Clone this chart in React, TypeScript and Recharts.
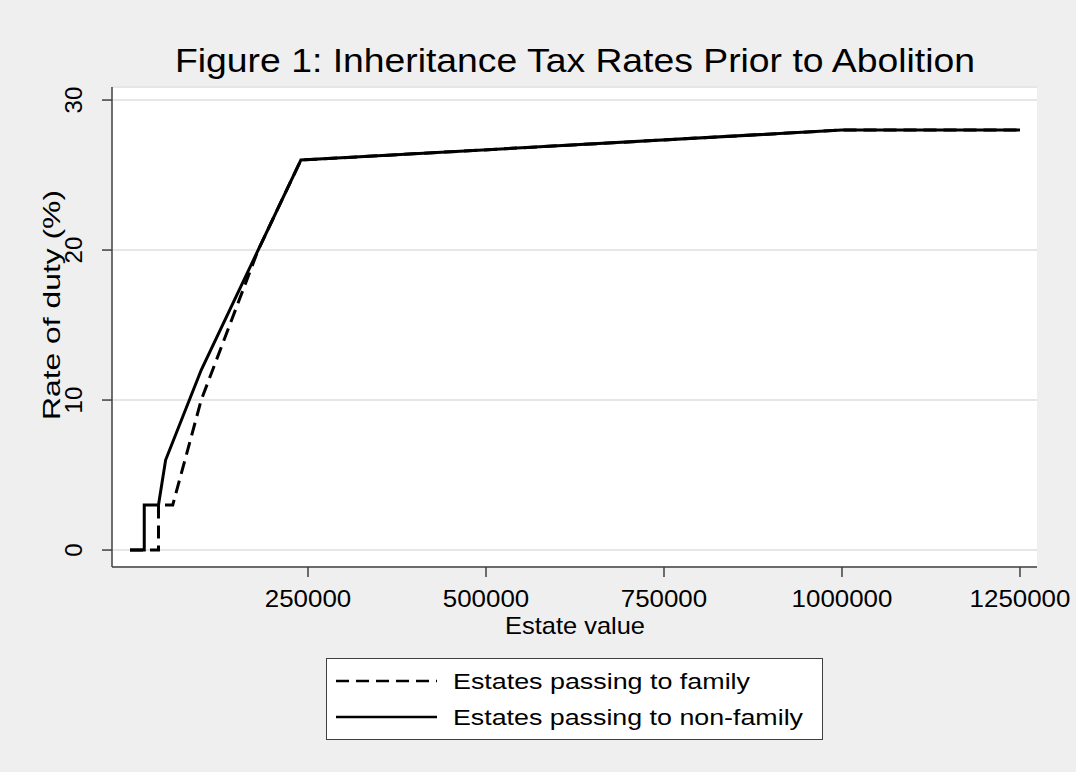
import React from 'react';
import { LineChart, Line, XAxis, YAxis, CartesianGrid, Label } from 'recharts';

const familyX = [0, 40000, 40000, 60000, 100000, 180000, 240000, 1000000, 1250000];
const familyY = [0, 0, 3, 3, 10, 20, 26, 28, 28];
const nonFamilyX = [0, 20000, 20000, 40000, 50000, 100000, 240000, 1000000, 1250000];
const nonFamilyY = [0, 0, 3, 3, 6, 12, 26, 28, 28];
const xTicks = [250000, 500000, 750000, 1000000, 1250000];
const yTicks = [0, 10, 20, 30];
const seriesNames = ['Estates passing to family', 'Estates passing to non-family'];

const familyData = familyX.map((x, i) => ({ x, y: familyY[i] }));
const nonFamilyData = nonFamilyX.map((x, i) => ({ x, y: nonFamilyY[i] }));

const FONT = 'Liberation Sans, Arial, sans-serif';

const YTick = (props: any) => {
  const { y, payload } = props;
  const bx = 82;
  return (
    <text x={bx} y={y} transform={`rotate(-90, ${bx}, ${y})`} textAnchor="middle" fontSize={24} fill="#000" fontFamily={FONT}>
      {payload.value}
    </text>
  );
};

const XTick = (props: any) => {
  const { x, payload } = props;
  const s = String(payload.value);
  return (
    <text x={x} y={607} textAnchor="middle" fontSize={24} fill="#000" fontFamily={FONT} textLength={s.length * 14.4} lengthAdjust="spacingAndGlyphs">
      {s}
    </text>
  );
};

const LegendBox = () => (
  <div style={{ position: 'absolute', left: 326, top: 658, width: 497, height: 82, background: '#fff', border: '1.5px solid #404040', boxSizing: 'border-box' }}>
    <svg width={497} height={82} style={{ position: 'absolute', left: -1.5, top: -1.5 }}>
      <line x1={10} x2={111} y1={23} y2={23} stroke="#000" strokeWidth={2.5} strokeDasharray="13 7" />
      <line x1={10} x2={111} y1={59} y2={59} stroke="#000" strokeWidth={2.5} />
      <text x={127} y={31} fontSize={22} fontFamily={FONT} fill="#000" textLength={297} lengthAdjust="spacingAndGlyphs">{seriesNames[0]}</text>
      <text x={127} y={67} fontSize={22} fontFamily={FONT} fill="#000" textLength={350} lengthAdjust="spacingAndGlyphs">{seriesNames[1]}</text>
    </svg>
  </div>
);

export default function App() {
  return (
    <div style={{ position: 'absolute', left: 0, top: 0, width: 1076, height: 772, background: '#efefef', overflow: 'hidden' }}>
      <svg width={1076} height={100} style={{ position: 'absolute', left: 0, top: 0 }}>
        <text x={575} y={72} textAnchor="middle" fontSize={33} fontFamily={FONT} fill="#000" textLength={800} lengthAdjust="spacingAndGlyphs">
          Figure 1: Inheritance Tax Rates Prior to Abolition
        </text>
      </svg>
      <LineChart width={1076} height={772} margin={{ top: 87, right: 39, bottom: 165, left: 52 }} style={{ position: 'absolute', left: 0, top: 0 }}>
        <CartesianGrid horizontal vertical={false} fill="#fff" stroke="#e6e6e6" strokeWidth={2} />
        <XAxis
          dataKey="x"
          type="number"
          domain={[-25300, 1273900]}
          ticks={xTicks}
          height={40}
          tick={<XTick />}
          tickLine={{ stroke: '#404040', strokeWidth: 1.5 }}
          tickSize={10}
          axisLine={{ stroke: '#404040', strokeWidth: 1.5 }}
          allowDuplicatedCategory={false}
        >
          <Label content={() => (
            <text x={575} y={634} textAnchor="middle" fontSize={24} fontFamily={FONT} fill="#000" textLength={140} lengthAdjust="spacingAndGlyphs">Estate value</text>
          )} />
        </XAxis>
        <YAxis
          dataKey="y"
          type="number"
          domain={[-1.13, 30.87]}
          ticks={yTicks}
          width={60}
          tick={<YTick />}
          tickLine={{ stroke: '#404040', strokeWidth: 1.5 }}
          tickSize={10}
          axisLine={{ stroke: '#404040', strokeWidth: 1.5 }}
        >
          <Label content={() => (
            <text x={60} y={305} transform="rotate(-90, 60, 305)" textAnchor="middle" fontSize={24} fontFamily={FONT} fill="#000" textLength={230} lengthAdjust="spacingAndGlyphs">Rate of duty (%)</text>
          )} />
        </YAxis>
        <Line data={familyData} dataKey="y" type="linear" stroke="#000" strokeWidth={3} strokeDasharray="13 7" dot={false} isAnimationActive={false} name={seriesNames[0]} />
        <Line data={nonFamilyData} dataKey="y" type="linear" stroke="#000" strokeWidth={3} dot={false} isAnimationActive={false} name={seriesNames[1]} />
      </LineChart>
      <LegendBox />
    </div>
  );
}
